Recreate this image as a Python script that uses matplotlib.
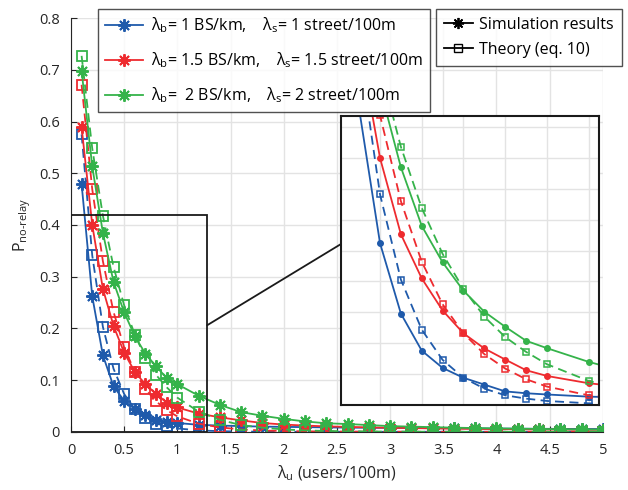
import matplotlib.pyplot as plt
from matplotlib.patches import Rectangle, ConnectionPatch
from matplotlib.lines import Line2D
from matplotlib.ticker import FormatStrFormatter

plt.rcParams['font.family'] = ['Open Sans', 'DejaVu Sans']
plt.rcParams['mathtext.fontset'] = 'custom'
plt.rcParams['mathtext.rm'] = 'Open Sans'
plt.rcParams['mathtext.it'] = 'Open Sans:italic'

# user density (users/100m)
x = [0.1, 0.2, 0.3, 0.4, 0.5, 0.6, 0.7, 0.8, 0.9, 1.0,
     1.2, 1.4, 1.6, 1.8, 2.0, 2.2, 2.4, 2.6, 2.8, 3.0,
     3.2, 3.4, 3.6, 3.8, 4.0, 4.2, 4.4, 4.6, 4.8, 5.0]

# simulation results
blue_sim = [0.479, 0.262, 0.148, 0.088, 0.060, 0.044, 0.033, 0.022, 0.019, 0.017,
            0.0135, 0.012, 0.011, 0.010, 0.0095, 0.009, 0.0085, 0.008, 0.0078, 0.0075,
            0.0072, 0.007, 0.0068, 0.0065, 0.0063, 0.006, 0.0058, 0.0056, 0.0055, 0.0053]
red_sim = [0.589, 0.400, 0.2765, 0.205, 0.153, 0.116, 0.0915, 0.0736, 0.0563, 0.047,
           0.0352, 0.028, 0.022, 0.017, 0.014, 0.012, 0.0105, 0.0095, 0.0085, 0.0078,
           0.0072, 0.0066, 0.006, 0.0056, 0.0052, 0.0048, 0.0045, 0.0042, 0.004, 0.0038]
green_sim = [0.698, 0.513, 0.385, 0.290, 0.231, 0.185, 0.151, 0.1266, 0.104, 0.092,
             0.0698, 0.052, 0.038, 0.031, 0.025, 0.020, 0.0165, 0.015, 0.013, 0.011,
             0.010, 0.009, 0.008, 0.0072, 0.0065, 0.006, 0.0055, 0.005, 0.0046, 0.0042]

# theory (eq. 10)
blue_th = [0.575, 0.341, 0.203, 0.122, 0.073, 0.044, 0.0265, 0.0157, 0.0103, 0.0065,
           0.0027, 0.0012, 0.0005, 0.0002, 0.0001, 0.0, 0.0, 0.0, 0.0, 0.0,
           0.0, 0.0, 0.0, 0.0, 0.0, 0.0, 0.0, 0.0, 0.0, 0.0]
red_th = [0.671, 0.469, 0.330, 0.232, 0.163, 0.116, 0.0823, 0.059, 0.0417, 0.0298,
          0.0157, 0.0085, 0.0045, 0.0025, 0.0014, 0.0008, 0.0005, 0.0003, 0.0002, 0.0001,
          0.0, 0.0, 0.0, 0.0, 0.0, 0.0, 0.0, 0.0, 0.0, 0.0]
green_th = [0.727, 0.548, 0.418, 0.319, 0.2446, 0.188, 0.143, 0.110, 0.086, 0.066,
            0.039, 0.023, 0.013, 0.008, 0.0045, 0.0027, 0.0016, 0.001, 0.0006, 0.0004,
            0.0002, 0.0001, 0.0, 0.0, 0.0, 0.0, 0.0, 0.0, 0.0, 0.0]

labels = ['λ$_\\mathrm{b}$= 1 BS/km,    λ$_\\mathrm{s}$= 1 street/100m',
          'λ$_\\mathrm{b}$= 1.5 BS/km,    λ$_\\mathrm{s}$= 1.5 street/100m',
          'λ$_\\mathrm{b}$=  2 BS/km,    λ$_\\mathrm{s}$= 2 street/100m']
colors = ['#1f5aab', '#ee2b2f', '#35b34a']
sims = [blue_sim, red_sim, green_sim]
ths = [blue_th, red_th, green_th]

ast = (8, 2, 0)  # matlab style asterisk

fig = plt.figure(figsize=(6.28, 4.9), dpi=100)
ax = fig.add_axes([0.113, 0.1188, 0.847, 0.8443])

for s, t, c in zip(sims, ths, colors):
    ax.plot(x, t, '--', color=c, lw=1.3, marker='s', ms=7.5, mfc='none', mew=1.3, dashes=(5, 3))
    ax.plot(x, s, '-', color=c, lw=1.3, marker=ast, ms=9, mew=1.4)

ax.set_xlim(0, 5)
ax.set_ylim(0, 0.8)
ax.set_xticks([0, 0.5, 1, 1.5, 2, 2.5, 3, 3.5, 4, 4.5, 5])
ax.set_yticks([0, 0.1, 0.2, 0.3, 0.4, 0.5, 0.6, 0.7, 0.8])
ax.xaxis.set_major_formatter(FormatStrFormatter('%g'))
ax.yaxis.set_major_formatter(FormatStrFormatter('%g'))
ax.grid(True, color='#e3e3e3', lw=1)
ax.set_axisbelow(True)
for side in ['top', 'right']:
    ax.spines[side].set_visible(False)
for side in ['left', 'bottom']:
    ax.spines[side].set_color('#262626')
ax.tick_params(direction='in', length=4, colors='#262626', labelsize=10.5, pad=8)
ax.set_xlabel('λ$_\\mathrm{u}$ (users/100m)', fontsize=11.5, color='#262626')
ax.set_ylabel('P$_{\\mathrm{no\\text{-}relay}}$', fontsize=11.5, color='#262626')

# zoom box
ax.add_patch(Rectangle((0, 0), 1.28, 0.42, fill=False, ec='#1a1a1a', lw=1.3, zorder=5))

# inset
axins = fig.add_axes([0.543, 0.1735, 0.411, 0.5898])
for s, t, c in zip(sims, ths, colors):
    axins.plot(x, t, '--', color=c, lw=1.3, marker='s', ms=4.5, mfc='none', mew=1.1, dashes=(5, 3))
    axins.plot(x, s, '-', color=c, lw=1.3, marker='o', ms=4)
axins.set_xlim(0.013, 1.25)
axins.set_ylim(0, 0.468)
axins.set_xticks([0.2, 0.4, 0.6, 0.8, 1.0, 1.2])
axins.set_yticks([0.05, 0.1, 0.15, 0.2, 0.25, 0.3, 0.35, 0.4, 0.45])
axins.tick_params(length=0, labelbottom=False, labelleft=False)
axins.grid(True, color='#e3e3e3', lw=1)
axins.set_axisbelow(True)
for sp in axins.spines.values():
    sp.set_color('#1a1a1a')
    sp.set_linewidth(1.5)

con = ConnectionPatch(xyA=(1.28, 0.206), coordsA=ax.transData,
                      xyB=(0, 0.557), coordsB=axins.transAxes,
                      color='#1a1a1a', lw=1.3)
fig.add_artist(con)

# legends
h1 = [Line2D([], [], color=c, lw=1.3, marker=ast, ms=9, mew=1.4) for c in colors]
leg1 = fig.legend(h1, labels, loc='upper left', bbox_to_anchor=(98 / 628, 1 - 9 / 490),
                  fontsize=11.5, frameon=True, fancybox=False, edgecolor='#262626',
                  handlelength=2.4, labelspacing=0.95, borderpad=0.42, handletextpad=0.5,
                  borderaxespad=0)
leg1.get_frame().set_linewidth(1.0)

h2 = [Line2D([], [], color='k', lw=1.3, marker=ast, ms=8, mew=1.3),
      Line2D([], [], color='k', lw=1.3, marker='s', ms=6, mfc='none')]
leg2 = fig.legend(h2, ['Simulation results', 'Theory (eq. 10)'], loc='upper left',
                  bbox_to_anchor=(436 / 628, 1 - 9 / 490),
                  fontsize=11.5, frameon=True, fancybox=False, edgecolor='#262626',
                  handlelength=1.8, labelspacing=0.55, borderpad=0.5, handletextpad=0.4,
                  borderaxespad=0)
leg2.get_frame().set_linewidth(1.0)

fig.savefig('out.png', dpi=100)
